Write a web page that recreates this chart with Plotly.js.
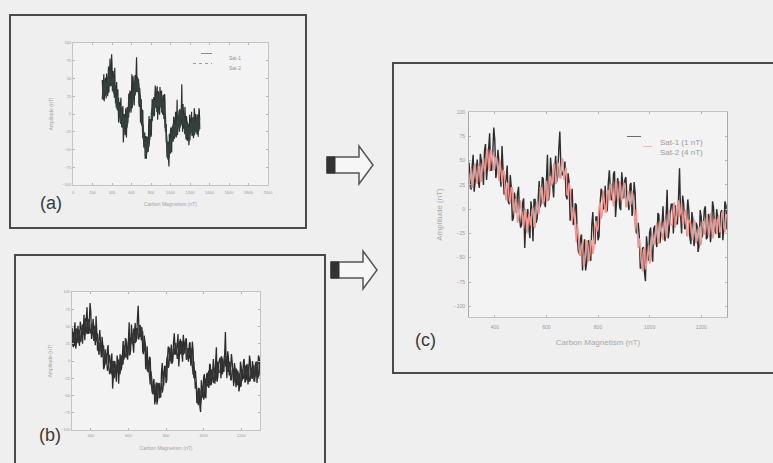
<!DOCTYPE html>
<html>
<head>
<meta charset="utf-8">
<script src="https://cdn.plot.ly/plotly-3.0.1.min.js"></script>
<style>
  html, body { margin: 0; padding: 0; background: #efefef; }
  #chart { width: 773px; height: 463px; }
</style>
</head>
<body>
<div id="chart"></div>
<script>
// ---- data (samples every 4 units starting at 300) ----
const sampleStart = 300;
const sampleStep = 4;

const sat1Values = [
  48,27,20,43,56,18,28,42,51,29,22,57,51,42,25,60,67,30,45,59,78,40,40,57,84,71,32,40,61,49,31,23,65,45,15,25,31,45,8,5,
  35,22,-12,-9,17,9,-4,16,23,-8,-19,-16,7,11,-40,-14,-4,0,-20,-30,8,-1,-33,10,10,-14,-10,7,29,2,8,33,31,7,2,29,56,9,16,53,
  39,25,12,41,55,28,34,61,80,46,35,36,46,49,14,10,37,28,-12,13,21,-16,-15,6,4,-31,-44,-46,-30,-26,-63,-41,-31,-63,-55,-34,-32,-50,-53,-16,
  -3,-30,-36,-8,-8,-32,-28,4,21,18,0,1,24,-3,-1,27,40,20,9,13,36,39,-8,8,32,25,2,-1,38,26,11,30,33,13,3,-1,25,27,-7,0,
  28,16,-24,-25,-14,-28,-61,-60,-41,-39,-65,-74,-28,-43,-53,-24,-19,-44,-54,-20,-17,-32,-39,-4,-6,-35,-28,-16,3,-26,-33,-2,20,-30,-22,-3,5,5,-25,-7,
  4,-15,-15,11,42,-5,-25,14,6,-20,-20,-10,10,-1,-29,-36,-3,-11,-38,-31,-14,-17,-44,-37,-1,-8,-29,-21,-1,3,-31,-29,-5,-8,-34,-23,8,1,-21,-25,
  0,-9,-29,-29,-3,-1,-32,-16,8,4,-21];

const sat2Values = [
  21,35,42,22,27,45,47,32,26,45,44,28,29,46,53,38,42,60,62,43,39,61,59,50,40,42,54,52,35,29,51,39,28,40,39,16,9,27,26,10,
  6,22,22,3,-6,11,5,-14,-11,-2,9,-1,-15,-20,-2,0,-25,-20,-5,-8,-17,-1,2,-18,-19,3,8,-5,-4,22,22,8,5,9,23,29,8,12,34,33,
  24,28,46,46,26,29,47,47,32,32,52,51,30,37,43,15,14,27,21,-1,-14,2,-5,-21,-34,-15,-25,-47,-48,-38,-34,-59,-56,-45,-32,-35,-54,-48,-35,-32,
  -46,-40,-17,-12,-23,-18,2,7,-10,-6,19,10,-3,-3,19,19,9,25,26,13,3,9,28,29,10,11,29,24,9,12,27,26,2,3,18,18,4,5,19,14,
  -8,-20,0,-19,-40,-30,-39,-54,-64,-41,-42,-62,-57,-47,-37,-56,-52,-29,-25,-36,-36,-19,-14,-34,-35,-12,-18,-25,-32,-14,-10,-29,-25,-6,-1,-16,-16,-16,4,7,
  -19,-9,5,9,-8,-3,7,-15,-15,-3,-1,-27,-28,-13,-11,-16,-28,-32,-11,-13,-35,-32,-21,-18,-37,-36,-13,-12,-26,-23,-9,-7,-27,-26,-4,-16,-30,-28,-11,-10,
  -26,-11,-6,-24,-21,-4,-1,-19,-24,-9,-5];

const seriesNamesA = ["Sat-1", "Sat-2"];
const seriesNamesC = ["Sat-1 (1 nT)", "Sat-2 (4 nT)"];
const yTickVals = [-100,-75,-50,-25,0,25,50,75,100];
const xTickValsWide = [0,200,400,600,800,1000,1200,1400,1600,1800,2000];
const xTickValsNarrow = [400,600,800,1000,1200];
const panelLabels = ["(a)", "(b)", "(c)"];
const xTitle = "Carbon Magnetism (nT)";
const yTitle = "Amplitude (nT)";

// ---- layout helpers (pixel -> paper fraction) ----
const W = 773, H = 463;
const fx = p => p / W;
const fy = p => 1 - p / H;
const FONT = "Liberation Sans, Arial, sans-serif";

const tickFontSmall = {family: FONT, size: 4, color: "#9a9a9a"};
const tickFontC = {family: FONT, size: 5, color: "#9a9a9a"};

function axisBase(font) {
  return {
    showgrid: false, zeroline: false, showline: true, linecolor: "#c4c4c4", linewidth: 1,
    mirror: "ticks", ticks: "inside", ticklen: 2, tickcolor: "#b5b5b5",
    tickfont: font, fixedrange: true
  };
}

const traces = [
  {type: "scatter", mode: "lines", name: seriesNamesA[0], y: sat1Values, x0: sampleStart, dx: sampleStep,
   xaxis: "x", yaxis: "y", line: {color: "#2c312f", width: 1.2}, showlegend: false},
  {type: "scatter", mode: "lines", name: seriesNamesA[1], y: sat2Values, x0: sampleStart, dx: sampleStep,
   xaxis: "x", yaxis: "y", line: {color: "#34403c", width: 1.2}, showlegend: false},
  {type: "scatter", mode: "lines", name: seriesNamesA[0], y: sat1Values, x0: sampleStart, dx: sampleStep,
   xaxis: "x2", yaxis: "y2", line: {color: "#2c2c2c", width: 1.3}, showlegend: false},
  {type: "scatter", mode: "lines", name: seriesNamesA[1], y: sat2Values, x0: sampleStart, dx: sampleStep,
   xaxis: "x2", yaxis: "y2", line: {color: "#333333", width: 1.3}, showlegend: false},
  {type: "scatter", mode: "lines", name: seriesNamesC[0], y: sat1Values, x0: sampleStart, dx: sampleStep,
   xaxis: "x3", yaxis: "y3", line: {color: "#2b2e2d", width: 1.4}, showlegend: false},
  {type: "scatter", mode: "lines", name: seriesNamesC[1], y: sat2Values, x0: sampleStart, dx: sampleStep,
   xaxis: "x3", yaxis: "y3", line: {color: "#f0968f", width: 1.4}, showlegend: false}
];

function arrowPath(x, y) {
  const pts = [[x, y-8],[x+32, y-8],[x+32, y-19],[x+46, y],[x+32, y+19],[x+32, y+8],[x, y+8]];
  return "M" + pts.map(p => fx(p[0]).toFixed(5) + "," + fy(p[1]).toFixed(5)).join(" L") + " Z";
}
function rectPath(x0, y0, x1, y1) {
  return "M" + fx(x0) + "," + fy(y0) + " L" + fx(x1) + "," + fy(y0) + " L" + fx(x1) + "," + fy(y1) + " L" + fx(x0) + "," + fy(y1) + " Z";
}
function seg(x0, y0, x1, y1, color, width, dash) {
  return {type: "line", xref: "paper", yref: "paper", x0: fx(x0), y0: fy(y0), x1: fx(x1), y1: fy(y1),
          line: {color: color, width: width, dash: dash || "solid"}};
}

const boxLine = {color: "#4a4a4a", width: 2};
const shapes = [
  {type: "rect", xref: "paper", yref: "paper", x0: fx(10), x1: fx(306), y0: fy(15), y1: fy(228), line: boxLine, layer: "below"},
  {type: "rect", xref: "paper", yref: "paper", x0: fx(15), x1: fx(325), y0: fy(255), y1: fy(475), line: boxLine, layer: "below"},
  {type: "rect", xref: "paper", yref: "paper", x0: fx(393), x1: fx(790), y0: fy(63), y1: fy(373), line: boxLine, layer: "below"},
  {type: "path", xref: "paper", yref: "paper", path: arrowPath(327, 165), fillcolor: "#f6f6f6", line: {color: "#555", width: 1.5}},
  {type: "path", xref: "paper", yref: "paper", path: rectPath(327, 157, 335, 173), fillcolor: "#333", line: {color: "#333", width: 1}},
  {type: "path", xref: "paper", yref: "paper", path: arrowPath(331, 270), fillcolor: "#f6f6f6", line: {color: "#555", width: 1.5}},
  {type: "path", xref: "paper", yref: "paper", path: rectPath(331, 262, 339, 278), fillcolor: "#333", line: {color: "#333", width: 1}},
  // legend samples, panel (c)
  seg(627, 136.5, 641, 136.5, "#6a6a6a", 1),
  seg(643, 146.5, 652, 146.5, "#f2b8b3", 1),
  // legend samples, panel (a)
  seg(201, 53.5, 212, 53.5, "#8a8a8a", 1),
  seg(193, 63.5, 212, 63.5, "#9a9a9a", 1, "dot")
];

const labelFont = {family: FONT, size: 18, color: "#3a3a3a"};
const legendFontC = {family: FONT, size: 8, color: "#9a9a9a"};
const legendFontA = {family: FONT, size: 5, color: "#929292"};
const annotations = [
  {text: panelLabels[0], xref: "paper", yref: "paper", x: fx(38), y: fy(203), showarrow: false, font: labelFont},
  {text: panelLabels[1], xref: "paper", yref: "paper", x: fx(37), y: fy(447), showarrow: false, font: labelFont},
  {text: panelLabels[2], xref: "paper", yref: "paper", x: fx(425), y: fy(352), showarrow: false, font: labelFont},
  {text: seriesNamesC[0], xref: "paper", yref: "paper", x: fx(705), y: fy(136), xanchor: "right", showarrow: false, font: legendFontC},
  {text: seriesNamesC[1], xref: "paper", yref: "paper", x: fx(705), y: fy(146), xanchor: "right", showarrow: false, font: legendFontC},
  {text: seriesNamesA[0], xref: "paper", yref: "paper", x: fx(243), y: fy(53), xanchor: "right", showarrow: false, font: legendFontA},
  {text: seriesNamesA[1], xref: "paper", yref: "paper", x: fx(243), y: fy(63), xanchor: "right", showarrow: false, font: legendFontA}
];

const titleFontSmall = {family: FONT, size: 5, color: "#a5a5a5"};
const titleFontC = {family: FONT, size: 8, color: "#a8a8a8"};

const layout = {
  width: W, height: H,
  margin: {l: 0, r: 0, t: 0, b: 0},
  paper_bgcolor: "#efefef",
  plot_bgcolor: "#f3f3f3",
  showlegend: false,
  xaxis: Object.assign(axisBase(tickFontSmall), {domain: [fx(73), fx(268)], range: [0, 2000], tickvals: xTickValsWide, anchor: "y",
    ticklabelstandoff: 3, title: {text: xTitle, font: titleFontSmall, standoff: 8}}),
  yaxis: Object.assign(axisBase(tickFontSmall), {domain: [fy(185), fy(43)], range: [-100, 100], tickvals: yTickVals, anchor: "x",
    title: {text: yTitle, font: titleFontSmall, standoff: 8}}),
  xaxis2: Object.assign(axisBase(tickFontSmall), {domain: [fx(72), fx(260)], range: [300, 1300], tickvals: xTickValsNarrow, anchor: "y2",
    ticklabelstandoff: 1, title: {text: xTitle, font: titleFontSmall, standoff: 9}}),
  yaxis2: Object.assign(axisBase(tickFontSmall), {domain: [fy(430), fy(292)], range: [-100, 100], tickvals: yTickVals, anchor: "x2",
    title: {text: yTitle, font: titleFontSmall, standoff: 8}}),
  xaxis3: Object.assign(axisBase(tickFontC), {domain: [fx(469), fx(727)], range: [300, 1300], tickvals: xTickValsNarrow, anchor: "y3",
    ticklabelstandoff: 5, title: {text: xTitle, font: titleFontC, standoff: 10}}),
  yaxis3: Object.assign(axisBase(tickFontC), {domain: [fy(317), fy(112)], range: [-111, 100], tickvals: yTickVals, anchor: "x3",
    ticklabelstandoff: 2, title: {text: yTitle, font: titleFontC, standoff: 9}, linecolor: "#a8a8a8"}),
  shapes: shapes,
  annotations: annotations
};

Plotly.newPlot("chart", traces, layout, {staticPlot: true, displayModeBar: false});
</script>
</body>
</html>
